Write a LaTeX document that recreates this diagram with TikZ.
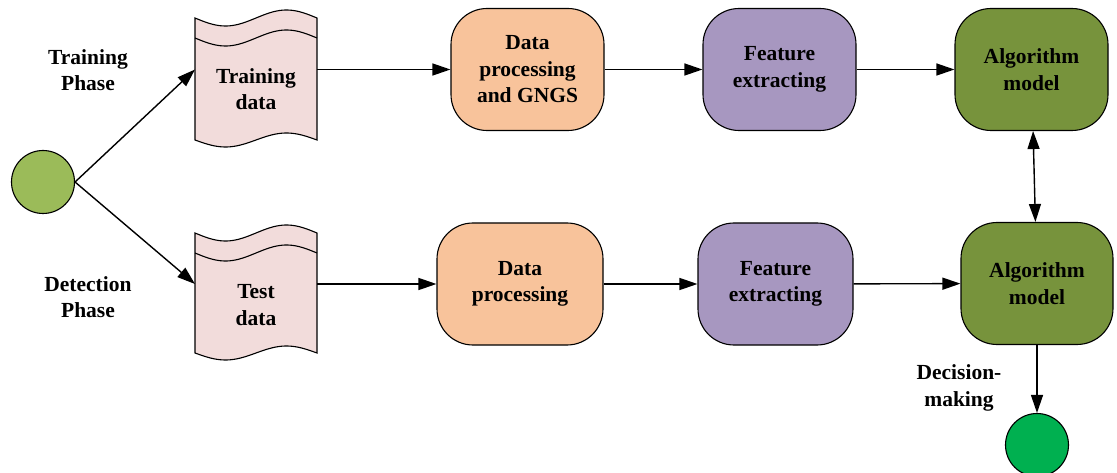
\documentclass[tikz,border=0pt]{standalone}
\usepackage{fontspec}
\setmainfont{Liberation Serif}
\usetikzlibrary{arrows.meta,calc}

\definecolor{docpink}{HTML}{F2DCDB}
\definecolor{procpeach}{HTML}{F8C39B}
\definecolor{featpurple}{HTML}{A797C0}
\definecolor{algogreen}{HTML}{77933C}
\definecolor{startgreen}{HTML}{9BBB59}
\definecolor{endgreen}{HTML}{00B050}

\tikzset{
  tip/.tip={Triangle[length=18pt,width=12pt]},
  flow/.style={line width=1.4pt, -tip},
  txt/.style={font=\fontsize{21.5}{26.5}\selectfont\bfseries, align=center},
  stage/.style={txt, draw, line width=1.1pt, rounded corners=36pt,
                minimum height=122pt, inner sep=0pt},
  docarea/.style={minimum width=122pt, inner sep=0pt, outer sep=0pt},
  terminal/.style={circle, draw, line width=1.1pt, minimum size=63pt, inner sep=0pt},
}

% wavy "document" outline laid over an invisible node #1 of height #2
\newcommand\wavedoc[2]{%
  \filldraw[fill=docpink, line width=1.1pt, shift={(#1.north west)}]
    plot[domain=0:1, samples=50] ({122*\x}, {8*sin(360*\x)})
    -- plot[domain=1:0, samples=50] ({122*\x}, {#2+7*sin(360*\x)}) -- cycle;
  \draw[line width=1.1pt, shift={(#1.north west)}]
    plot[domain=0:1, samples=50] ({122*\x}, {20+8*sin(360*\x)});
}

\begin{document}
\begin{tikzpicture}[x=1pt, y=-1pt]
\useasboundingbox (0,0) rectangle (1117,473);

% data sources
\node[docarea, minimum height=122pt] (trdoc) at (256,79) {};
\node[docarea, minimum height=120pt] (tedoc) at (256,293) {};
\wavedoc{trdoc}{122}
\wavedoc{tedoc}{120}
\node[txt] (trtext) at ($(trdoc.center)+(0,10)$) {Training\\data};
\node[txt] (tetext) at ($(tedoc.center)+(0,12)$) {Test\\data};

% processing stages
\node[stage, fill=procpeach, minimum width=153pt] (dp1) at (527.5,69.5) {Data\\processing\\and GNGS};
\node[stage, fill=featpurple, minimum width=153pt] (fe1) at (779.5,69.5) {Feature\\extracting};
\node[stage, fill=algogreen, minimum width=153pt] (am1) at (1031.5,69.5) {Algorithm\\model};
\node[stage, fill=procpeach, minimum width=166pt] (dp2) at (520,284) {Data\\processing};
\node[stage, fill=featpurple, minimum width=155pt] (fe2) at (775.5,284) {Feature\\extracting};
\node[stage, fill=algogreen, minimum width=152pt] (am2) at (1037,283.5) {Algorithm\\model};

% start and end points
\node[terminal, fill=startgreen] (start) at (43,182) {};
\node[terminal, fill=endgreen] (decide) at (1037,445) {};

% phase labels
\node[txt] (trainlbl) at (88,70) {Training\\Phase};
\node[txt] (detectlbl) at (88,297) {Detection\\Phase};
\node[txt] (decidelbl) at (959,388) {Decision-\\making};

% connectors
\draw[flow] (start.east) -- (trdoc.west |- dp1.west);
\draw[flow] (start.east) -- (tedoc.west |- dp2.west);
\draw[flow] (trdoc.east |- dp1.west) -- (dp1.west);
\draw[flow] (dp1) -- (fe1);
\draw[flow] (fe1) -- (am1);
\draw[flow] (tedoc.east |- dp2.west) -- (dp2.west);
\draw[flow] (dp2) -- (fe2);
\draw[flow] (fe2) -- (am2);
\draw[flow, tip-tip] (am1) -- (am2);
\draw[flow] (am2) -- (decide);
\end{tikzpicture}
\end{document}
